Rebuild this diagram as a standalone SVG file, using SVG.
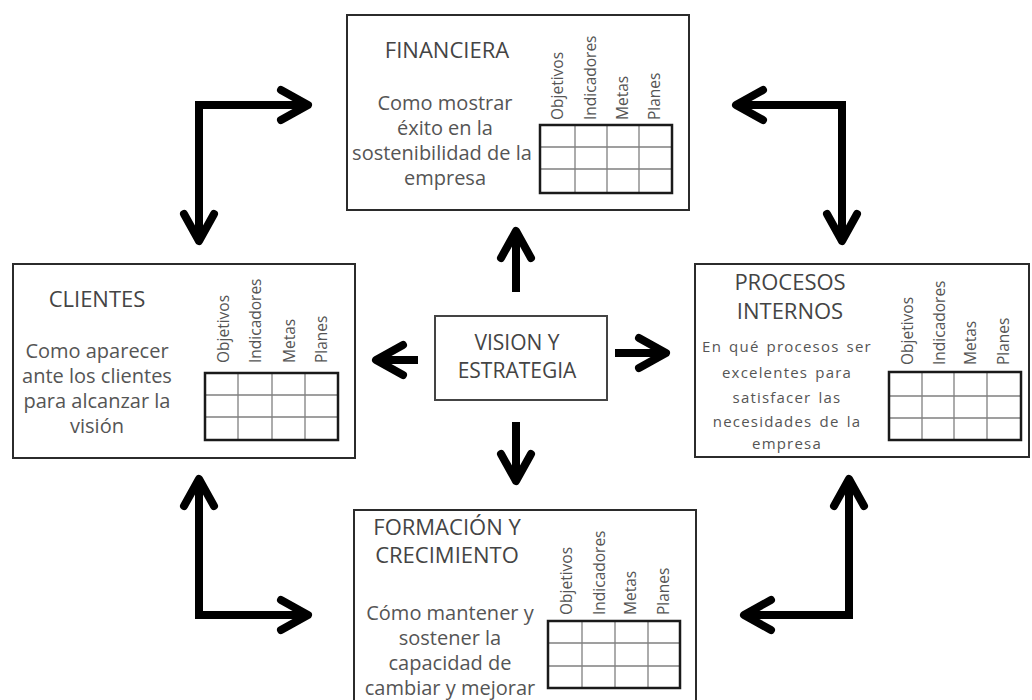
<svg xmlns="http://www.w3.org/2000/svg" width="1032" height="700" viewBox="0 0 1032 700">
<defs>
<marker id="chev" viewBox="-34 -20 40 40" refX="0" refY="0" markerWidth="40" markerHeight="40" markerUnits="userSpaceOnUse" orient="auto-start-reverse" overflow="visible">
<path d="M-27,-15 L0,0 L-27,15" fill="none" stroke="#000" stroke-width="8" stroke-linecap="round" stroke-linejoin="round"/>
</marker>
</defs>
<style>
.box{fill:#fff;stroke:#2b2b2b;stroke-width:2}
.tbl{fill:none;stroke:#1a1a1a;stroke-width:2.5}
.grid{stroke:#808080;stroke-width:1.3}
.title{font-family:"Open Sans","Liberation Sans",sans-serif;font-size:22px;fill:#444;text-anchor:middle}
.body{font-family:"Open Sans","Liberation Sans",sans-serif;font-size:20px;fill:#555;text-anchor:middle}
.small{font-family:"Open Sans","Liberation Sans",sans-serif;font-size:15px;fill:#555;text-anchor:middle;letter-spacing:1.2px;word-spacing:2px}
.col{font-family:"Open Sans","Liberation Sans",sans-serif;font-size:15.5px;fill:#555}
.arr{fill:none;stroke:#000;stroke-width:8;stroke-linejoin:miter;marker-end:url(#chev)}
.arr2{fill:none;stroke:#000;stroke-width:8;stroke-linejoin:miter;marker-start:url(#chev);marker-end:url(#chev)}
</style>
<rect width="1032" height="700" fill="#fff"/>

<g id="financiera">
<rect class="box" x="347" y="15" width="342" height="195"/>
<text class="title" x="447" y="58">FINANCIERA</text>
<text class="body" x="445" y="110">Como mostrar</text>
<text class="body" x="445" y="135">éxito en la</text>
<text class="body" x="442" y="160">sostenibilidad de la</text>
<text class="body" x="445" y="185">empresa</text>
<text class="col" transform="translate(563,120) rotate(-90)">Objetivos</text>
<text class="col" transform="translate(596,120) rotate(-90)">Indicadores</text>
<text class="col" transform="translate(628,120) rotate(-90)">Metas</text>
<text class="col" transform="translate(660,120) rotate(-90)">Planes</text>
<path class="grid" d="M540,147H672M540,169H672M575,125V193M607,125V193M639,125V193"/>
<rect class="tbl" x="540" y="125" width="132" height="68"/>
</g>

<g id="clientes">
<rect class="box" x="13" y="264" width="342" height="194"/>
<text class="title" x="97" y="307">CLIENTES</text>
<text class="body" x="97" y="358">Como aparecer</text>
<text class="body" x="97" y="383">ante los clientes</text>
<text class="body" x="97" y="408">para alcanzar la</text>
<text class="body" x="97" y="433">visión</text>
<text class="col" transform="translate(229,363) rotate(-90)">Objetivos</text>
<text class="col" transform="translate(261,363) rotate(-90)">Indicadores</text>
<text class="col" transform="translate(295,363) rotate(-90)">Metas</text>
<text class="col" transform="translate(327,363) rotate(-90)">Planes</text>
<path class="grid" d="M205,395H338M205,417H338M238,373V440M272,373V440M305,373V440"/>
<rect class="tbl" x="205" y="373" width="133" height="67"/>
</g>

<g id="procesos">
<rect class="box" x="695" y="264" width="334" height="193"/>
<text class="title" x="790" y="290">PROCESOS</text>
<text class="title" x="790" y="319">INTERNOS</text>
<text class="small" x="787" y="352">En qué procesos ser</text>
<text class="small" x="787" y="378">excelentes para</text>
<text class="small" x="787" y="403">satisfacer las</text>
<text class="small" x="787" y="427">necesidades de la</text>
<text class="small" x="787" y="449">empresa</text>
<text class="col" transform="translate(913,365) rotate(-90)">Objetivos</text>
<text class="col" transform="translate(945,365) rotate(-90)">Indicadores</text>
<text class="col" transform="translate(976,365) rotate(-90)">Metas</text>
<text class="col" transform="translate(1009,365) rotate(-90)">Planes</text>
<path class="grid" d="M889,396H1021M889,418H1021M922,372V440M954,372V440M987,372V440"/>
<rect class="tbl" x="889" y="372" width="132" height="68"/>
</g>

<g id="formacion">
<rect class="box" x="354" y="510" width="342" height="200"/>
<text class="title" x="447" y="535">FORMACIÓN Y</text>
<text class="title" x="447" y="563">CRECIMIENTO</text>
<text class="body" x="450" y="620">Cómo mantener y</text>
<text class="body" x="450" y="645">sostener la</text>
<text class="body" x="450" y="670">capacidad de</text>
<text class="body" x="450" y="695">cambiar y mejorar</text>
<text class="col" transform="translate(572,615) rotate(-90)">Objetivos</text>
<text class="col" transform="translate(605,615) rotate(-90)">Indicadores</text>
<text class="col" transform="translate(636,615) rotate(-90)">Metas</text>
<text class="col" transform="translate(669,615) rotate(-90)">Planes</text>
<path class="grid" d="M548,643H680M548,666H680M582,621V688M615,621V688M648,621V688"/>
<rect class="tbl" x="548" y="621" width="132" height="67"/>
</g>

<g id="vision">
<rect class="box" x="435" y="316" width="172" height="84" style="stroke:#444"/>
<text class="title" x="517" y="350" style="font-size:21px">VISION Y</text>
<text class="title" x="517" y="378" style="font-size:21px">ESTRATEGIA</text>
</g>

<g id="connectors">
<path class="arr" d="M516,292V231"/>
<path class="arr" d="M418,360H376"/>
<path class="arr" d="M615,353H666"/>
<path class="arr" d="M516,422V481"/>
<path class="arr2" d="M308,105H199V241"/>
<path class="arr2" d="M736,105H842V241"/>
<path class="arr2" d="M199,479V615H308"/>
<path class="arr2" d="M744,615H849V479"/>
</g>
</svg>
